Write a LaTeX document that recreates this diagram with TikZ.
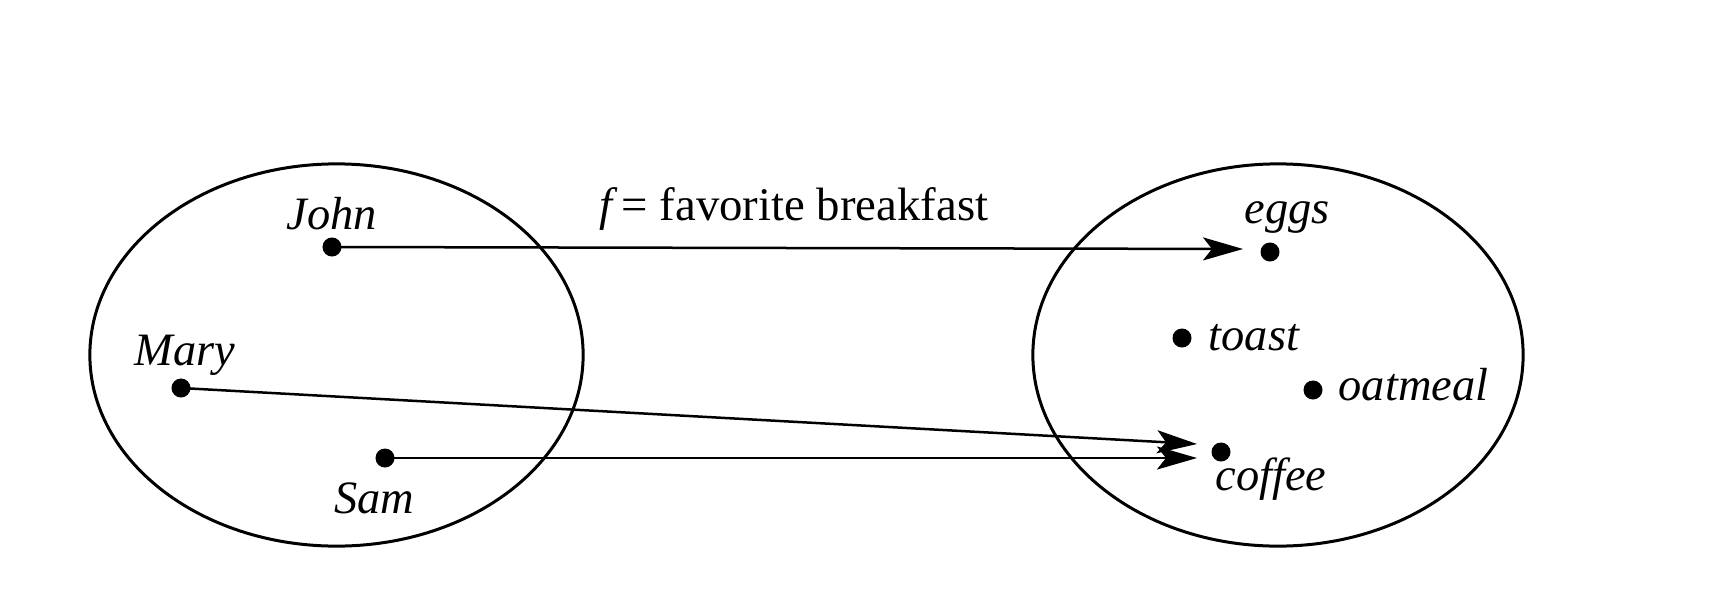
\documentclass[tikz,border=0pt]{standalone}
\usepackage{fontspec}
\setmainfont{Liberation Serif}
\usetikzlibrary{arrows.meta,shapes.geometric}
\begin{document}
\begin{tikzpicture}[x=0.01cm,y=-0.01cm,
    txt/.style={font=\fontsize{13.3}{16}\selectfont, inner sep=0pt},
    itemlbl/.style={inner sep=0pt, font=\fontsize{13.2}{16}\selectfont\itshape},
    dot/.style={circle, fill=black, inner sep=0pt, minimum size=0.19cm},
    setshape/.style={ellipse, draw, line width=0.03cm, inner sep=0pt},
    mapto/.style={line width=0.025cm, -{Stealth[length=4mm,width=2.3mm,inset=0.9mm]}}]
    \useasboundingbox (0,0) rectangle (1724,606);

    % Drawing the two sets
    \node [setshape, minimum width=4.93cm, minimum height=3.82cm] (people) at (336.5,355) {};%
    \node [setshape, minimum width=4.90cm, minimum height=3.82cm] (foods) at (1278,355) {};%

    % Marking the points of the first set
    \node [dot] (john) at (332,247) {};%
    \node [dot] (mary) at (181,388) {};%
    \node [dot] (sam) at (385,458) {};%
    \node [itemlbl, anchor=base] (johnlbl) at (332,229) {John};%
    \node [itemlbl, anchor=base] (marylbl) at (185,365) {Mary};%
    \node [itemlbl, anchor=base] (samlbl) at (374,513) {Sam};%

    % Marking the points of the second set
    \node [dot] (eggs) at (1270,252) {};%
    \node [dot] (toast) at (1182,338) {};%
    \node [dot] (oatmeal) at (1313,390) {};%
    \node [dot] (coffee) at (1221,452) {};%
    \node [itemlbl, anchor=base] (eggslbl) at (1287,223) {eggs};%
    \node [itemlbl, anchor=base west] (toastlbl) at (1208,350) {toast};%
    \node [itemlbl, anchor=base west] (oatmeallbl) at (1338,400) {oatmeal};%
    \node [itemlbl, anchor=base west] (coffeelbl) at (1215,490) {coffee};%

    % Drawing the map f
    \node [txt, anchor=base] (flbl) at (794,220) {\textit{f}\kern1pt= favorite breakfast};%
    \coordinate (johnend) at (1243,249);%
    \coordinate (maryend) at (1197,444);%
    \coordinate (samend) at (1197,458);%
    \draw [mapto] (john.center) -- (johnend);%
    \draw [mapto] (mary.center) -- (maryend);%
    \draw [mapto] (sam.center) -- (samend);%
\end{tikzpicture}
\end{document}
